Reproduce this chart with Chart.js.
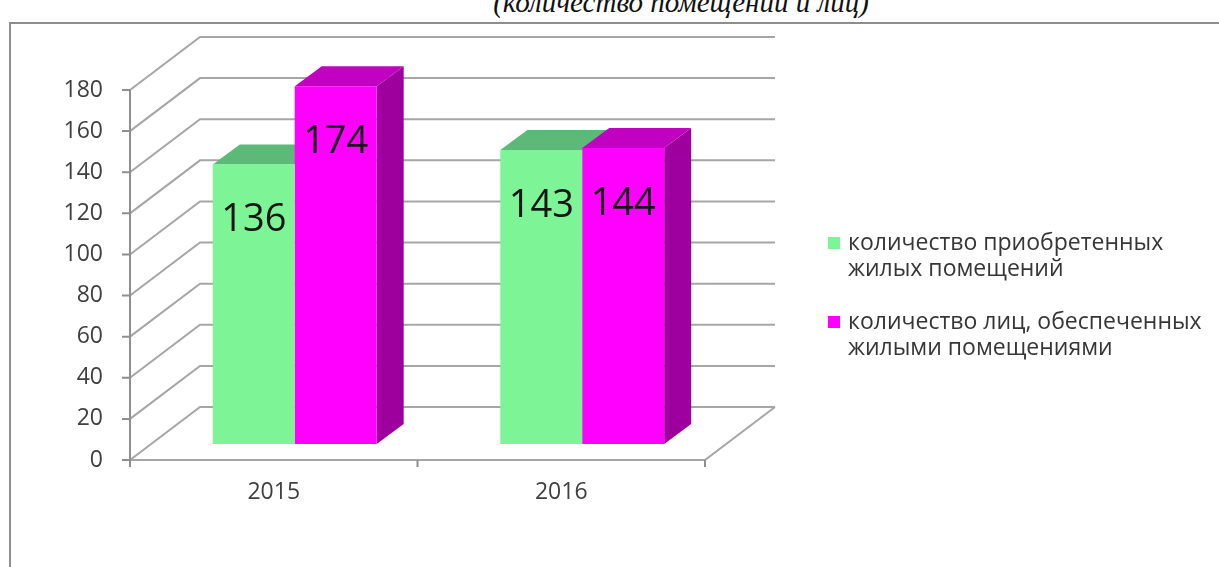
<!DOCTYPE html>
<html lang="ru">
<head>
<meta charset="utf-8">
<title>Количество помещений и лиц</title>
<script src="https://cdn.jsdelivr.net/npm/chart.js@4.4.1/dist/chart.umd.min.js"></script>
<style>
    html, body { margin: 0; padding: 0; background: #fff; overflow: hidden; }
    .wrap { position: relative; width: 1219px; height: 567px; overflow: hidden; }
    .title {
        position: absolute; left: 0; top: -14px; width: 1362px;
        text-align: center; font: italic 29px 'Liberation Serif', serif; color: #111;
    }
    .frame {
        position: absolute; left: 9px; top: 22px; width: 1400px; height: 800px;
        border-top: 2px solid #8e8e8e; border-left: 2px solid #8e8e8e;
    }
    canvas { position: absolute; left: 0; top: 0; }
</style>
</head>
<body>
<div class="wrap">
    <div class="title">(количество помещений и лиц)</div>
    <div class="frame"></div>
    <canvas id="housingChart" width="1219" height="567"></canvas>
</div>
<script>
// chart data
const years = ['2015', '2016'];
const acquiredFlats = [136, 143];
const providedPersons = [174, 144];
const seriesNames = [
    ['количество приобретенных', 'жилых помещений'],
    ['количество лиц, обеспеченных', 'жилыми помещениями']
];
const yTickValues = [0, 20, 40, 60, 80, 100, 120, 140, 160, 180];

const TEXT = '#404040';
const GRID = '#a6a6a6';
const WALL_DEPTH = { x: 70, y: -53 };   // back wall offset
const BAR_SHIFT = { x: 21, y: -16 };    // bars stand part way into the floor
const BAR_DEPTH = { x: 27, y: -20 };

function poly(ctx, pts, color) {
    ctx.fillStyle = color;
    ctx.beginPath();
    ctx.moveTo(pts[0][0], pts[0][1]);
    pts.slice(1).forEach(p => ctx.lineTo(p[0], p[1]));
    ctx.closePath();
    ctx.fill();
}

// draws the pseudo 3d walls, bar tops/sides, value labels and legend
const box3d = {
    id: 'box3d',
    beforeDatasetsDraw(chart) {
        const { ctx, chartArea: a, scales: { x, y } } = chart;
        const y0 = y.getPixelForValue(0);

        ctx.save();
        ctx.lineWidth = 2;
        ctx.strokeStyle = GRID;
        ctx.beginPath();
        y.ticks.forEach(t => {
            const py = y.getPixelForValue(t.value);
            ctx.moveTo(a.left, py);
            ctx.lineTo(a.left + WALL_DEPTH.x, py + WALL_DEPTH.y);
            ctx.lineTo(a.right + WALL_DEPTH.x, py + WALL_DEPTH.y);
        });
        // floor front and right edge
        ctx.moveTo(a.left, y0);
        ctx.lineTo(a.right, y0);
        ctx.lineTo(a.right + WALL_DEPTH.x, y0 + WALL_DEPTH.y);
        ctx.stroke();

        // axis line and tick marks
        ctx.strokeStyle = '#8f8f8f';
        ctx.beginPath();
        ctx.moveTo(a.left, y.getPixelForValue(y.max));
        ctx.lineTo(a.left, y0 + 3);
        y.ticks.forEach(t => {
            const py = y.getPixelForValue(t.value);
            ctx.moveTo(a.left - 8, py);
            ctx.lineTo(a.left, py);
        });
        for (let i = 0; i <= years.length; i++) {
            const px = x.getPixelForValue(i - 0.5);
            ctx.moveTo(px, y0);
            ctx.lineTo(px, y0 + 7);
        }
        ctx.stroke();

        // bars: tops and sides, then let chart.js paint the fronts
        ctx.translate(BAR_SHIFT.x, BAR_SHIFT.y);
        chart.data.datasets.forEach((ds, di) => {
            chart.getDatasetMeta(di).data.forEach(bar => {
                const { x: bx, y: by, base, width } = bar.getProps(['x', 'y', 'base', 'width'], true);
                const l = bx - width / 2, r = bx + width / 2;
                const dx = BAR_DEPTH.x, dy = BAR_DEPTH.y;
                poly(ctx, [[r, by], [r + dx, by + dy], [r + dx, base + dy], [r, base]], ds.sideColor);
                poly(ctx, [[l, by], [r, by], [r + dx, by + dy], [l + dx, by + dy]], ds.topColor);
            });
        });
    },
    afterDatasetsDraw(chart) {
        const { ctx } = chart;
        ctx.font = '38px "Open Sans"';
        ctx.fillStyle = '#151515';
        ctx.textAlign = 'center';
        ctx.textBaseline = 'middle';
        chart.data.datasets.forEach((ds, di) => {
            chart.getDatasetMeta(di).data.forEach((bar, i) => {
                ctx.fillText(String(ds.data[i]), bar.x, bar.y + 56);
            });
        });
        ctx.restore();
    },
    afterDraw(chart) {
        const { ctx } = chart;
        const legendX = 828, rows = [243, 322], lineGap = 26;
        ctx.save();
        ctx.font = '23px "Open Sans"';
        ctx.textBaseline = 'middle';
        ctx.textAlign = 'left';
        chart.data.datasets.forEach((ds, di) => {
            const top = rows[di];
            ctx.fillStyle = ds.backgroundColor;
            ctx.fillRect(legendX, top - 6, 12, 12);
            ctx.fillStyle = '#363636';
            ds.label.forEach((line, li) => {
                ctx.fillText(line, legendX + 20, top + li * lineGap);
            });
        });
        ctx.restore();
    }
};

function init() {
    const ctx = document.getElementById('housingChart');
    new Chart(ctx, {
        type: 'bar',
        data: {
            labels: years,
            datasets: [
                {
                    label: seriesNames[0],
                    data: acquiredFlats,
                    backgroundColor: '#7df596',
                    topColor: '#5db977',
                    sideColor: '#4c9f63',
                    clip: false
                },
                {
                    label: seriesNames[1],
                    data: providedPersons,
                    backgroundColor: '#ff00ff',
                    topColor: '#c200c2',
                    sideColor: '#9e009e',
                    clip: false
                }
            ]
        },
        options: {
            responsive: false,
            animation: false,
            events: [],
            layout: { padding: { left: 0, right: 514, top: 90, bottom: 0 } },
            datasets: { bar: { categoryPercentage: 0.57, barPercentage: 1 } },
            plugins: { legend: { display: false }, tooltip: { enabled: false } },
            scales: {
                x: {
                    grid: { display: false, drawTicks: false },
                    border: { display: false },
                    ticks: { color: TEXT, font: { family: 'Open Sans', size: 23 }, padding: 19 },
                    afterFit(s) { s.height = 107; }
                },
                y: {
                    min: 0,
                    max: 180,
                    grid: { display: false, drawTicks: false },
                    border: { display: false },
                    afterBuildTicks(s) { s.ticks = yTickValues.map(v => ({ value: v })); },
                    ticks: { color: TEXT, font: { family: 'Open Sans', size: 23 }, padding: 27 },
                    afterFit(s) { s.width = 130; }
                }
            }
        },
        plugins: [box3d]
    });
}

document.fonts.load('20px "Open Sans"').then(init, init);
</script>
</body>
</html>
